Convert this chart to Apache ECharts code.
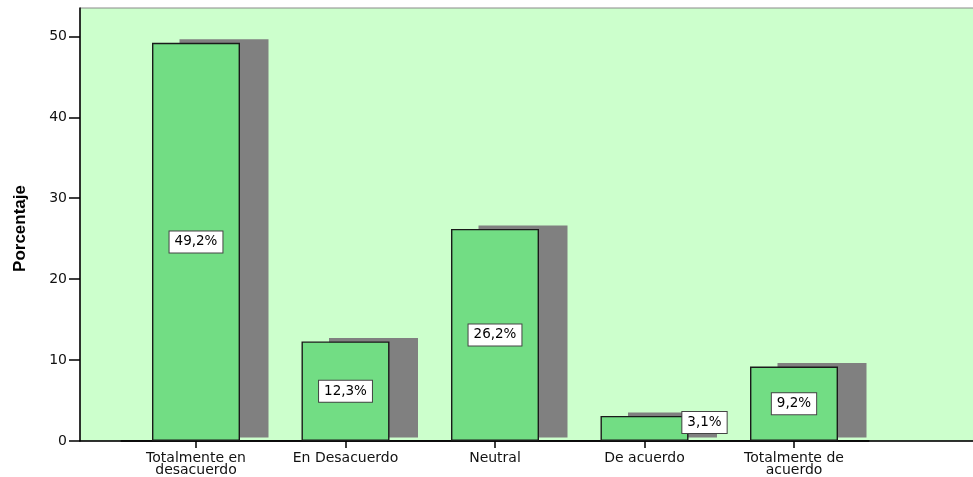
<!DOCTYPE html>
<html>
<head>
<meta charset="utf-8">
<script src="https://cdn.jsdelivr.net/npm/echarts@6/dist/echarts.min.js"></script>
<style>
html,body{margin:0;padding:0;background:#fff;}
#c{width:973px;height:477px;}
</style>
</head>
<body>
<div id="c"></div>
<script>
var categories = ['Totalmente en\ndesacuerdo', 'En Desacuerdo', 'Neutral', 'De acuerdo', 'Totalmente de\nacuerdo'];
var values = [49.2, 12.3, 26.2, 3.1, 9.2];
var yTicks = [0, 10, 20, 30, 40, 50];
var yMax = 53.5;

var chart = echarts.init(document.getElementById('c'), null, {renderer: 'canvas'});
var fontMain = "'DejaVu Sans', Verdana, sans-serif";

var mainData = values.map(function (v) {
  var item = {value: v};
  if (v < 5) {
    item.label = {offset: [60, -6]};
  }
  return item;
});

var option = {
  animation: false,
  backgroundColor: '#ffffff',
  grid: [
    {left: 80, right: -5, top: 8, bottom: 36, outerBoundsMode: 'none', show: true, backgroundColor: '#ccffcc', borderColor: '#8a8a8a', borderWidth: 1},
    {left: 121.25, width: 747.5, top: 8, bottom: 36, outerBoundsMode: 'none'},
    {left: 149.25, width: 747.5, top: 4.5, bottom: 39.5, outerBoundsMode: 'none'}
  ],
  xAxis: [
    {type: 'value', gridIndex: 0, min: 0, max: 1,
     axisLine: {show: true, lineStyle: {color: '#000', width: 1.5}},
     axisTick: {show: false}, axisLabel: {show: false}, splitLine: {show: false}},
    {type: 'category', gridIndex: 1, data: categories,
     axisLine: {show: true, lineStyle: {color: '#000', width: 1.5}},
     axisTick: {show: true, alignWithLabel: true, length: 7, lineStyle: {color: '#000', width: 1.5}},
     axisLabel: {interval: 0, fontSize: 14, lineHeight: 12.5, margin: 11, color: '#111', fontFamily: fontMain}},
    {type: 'category', gridIndex: 2, data: categories, show: false}
  ],
  yAxis: [
    {type: 'value', gridIndex: 0, min: 0, max: yMax,
     axisLine: {show: true, lineStyle: {color: '#000', width: 1.5}},
     axisTick: {show: true, length: 11, customValues: yTicks, lineStyle: {color: '#000', width: 1.5}},
     axisLabel: {customValues: yTicks, margin: 13, fontSize: 14, color: '#111', fontFamily: fontMain},
     splitLine: {show: false},
     name: 'Porcentaje', nameLocation: 'middle', nameGap: 51,
     nameTextStyle: {fontFamily: "'Liberation Sans', Arial, sans-serif", fontWeight: 'bold', fontSize: 17, color: '#000', padding: [0, 8, 0, 0]}},
    {type: 'value', gridIndex: 1, min: 0, max: yMax, show: false},
    {type: 'value', gridIndex: 2, min: 0, max: yMax, show: false}
  ],
  series: [
    {type: 'bar', xAxisIndex: 2, yAxisIndex: 2, data: values, barWidth: 89, silent: true, z: 1,
     itemStyle: {color: '#808080'}},
    {type: 'bar', xAxisIndex: 1, yAxisIndex: 1, data: mainData, barWidth: 88, z: 3,
     itemStyle: {color: '#72dd84', borderColor: '#1a1a1a', borderWidth: 1.4},
     label: {show: true, position: 'inside',
       formatter: function (p) { return String(p.value).replace('.', ',') + '%'; },
       backgroundColor: '#ffffff', borderColor: '#444', borderWidth: 1, padding: [4, 5, 3, 5],
       fontSize: 13.5, color: '#000', fontFamily: fontMain}}
  ]
};
chart.setOption(option);
</script>
</body>
</html>
